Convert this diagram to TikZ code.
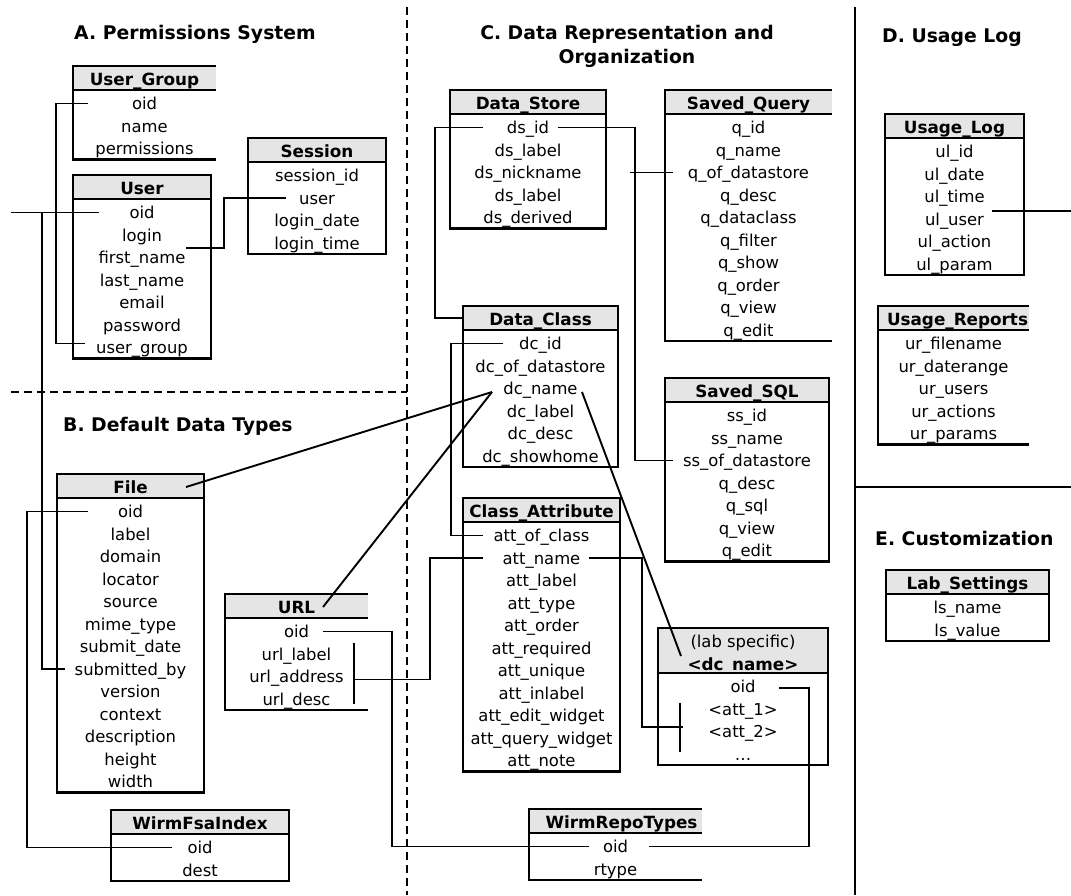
\documentclass[tikz,border=0pt]{standalone}
\usepackage{fontspec}
\setmainfont{DejaVu Sans}
\usetikzlibrary{calc}
\tikzset{
  boxline/.style={line width=2.3pt},
  hdrfill/.style={fill=black!10},
  rowtxt/.style={anchor=base, inner sep=0pt, font=\fontsize{16.4}{19}\selectfont},
  hdrtxt/.style={anchor=base, inner sep=0pt, font=\fontsize{16.8}{20}\selectfont\bfseries},
  ttl/.style={inner sep=0pt, font=\fontsize{18.8}{22}\selectfont\bfseries},
  conn/.style={line width=1.9pt},
  sepline/.style={line width=2.2pt, dash pattern=on 8pt off 5pt},
  solidsep/.style={line width=1.9pt},
}
% rows: name, centre x, header-bottom y, list
\newcommand{\dbrows}[4]{%
  \foreach \r [count=\i] in {#4}{%
    \coordinate (#1-\i) at (#2,#3+13.5+22.5*\i-22.5);
    \node[rowtxt] (#1-t\i) at (#2,#3+19.5+22.5*\i-22.5) {\r};
  }%
}
% name, left, top, right, open-right(0/1), n rows, header, rows
\newcommand{\dbtable}[8]{%
  \pgfmathsetmacro{\dbC}{(#2+#4)/2}%
  \pgfmathsetmacro{\dbHB}{#3+24}%
  \pgfmathsetmacro{\dbB}{#3+24+22.5*#6+2}%
  \fill[hdrfill] (#2,#3) rectangle (#4,\dbHB);
  \ifnum#5=1
    \draw[boxline] (#4,#3) -- (#2,#3) -- (#2,\dbB) -- (#4,\dbB);
  \else
    \draw[boxline] (#2,#3) rectangle (#4,\dbB);
  \fi
  \draw[boxline] (#2,\dbHB) -- (#4,\dbHB);
  \coordinate (#1-h) at (\dbC,#3+12);
  \node[hdrtxt] (#1-ht) at (\dbC,#3+19) {#7};
  \dbrows{#1}{\dbC}{\dbHB}{#8}%
}
\begin{document}
\begin{tikzpicture}[x=1pt,y=-1pt]
\useasboundingbox (0,0) rectangle (1071,895);

% section separators
\draw[sepline] (407,7) -- (407,895);
\draw[sepline] (11,392) -- (407,392);
\draw[solidsep] (855,7) -- (855,895);
\draw[solidsep] (855,487) -- (1071,487);

% titles
\node[ttl, anchor=base west] (ttlA) at (74,39) {A. Permissions System};
\node[ttl, anchor=base] (ttlC1) at (627,39) {C. Data Representation and};
\node[ttl, anchor=base] (ttlC2) at (627,63) {Organization};
\node[ttl, anchor=base west] (ttlB) at (63,431) {B. Default Data Types};
\node[ttl, anchor=base west] (ttlD) at (882,42) {D. Usage Log};
\node[ttl, anchor=base west] (ttlE) at (875,545) {E. Customization};

% tables
\dbtable{usergroup}{73}{66}{216}{1}{3}{User\_Group}{oid,name,permissions}
\dbtable{user}{73}{175}{211}{0}{7}{User}{oid,login,first\_name,last\_name,email,password,user\_group}
\dbtable{session}{248}{138}{386}{0}{4}{Session}{session\_id,user,login\_date,login\_time}
\dbtable{file}{57}{474}{204}{0}{13}{File}{oid,label,domain,locator,source,mime\_type,submit\_date,submitted\_by,version,context,description,height,width}
\dbtable{url}{225}{594}{368}{1}{4}{URL}{oid,url\_label,url\_address,url\_desc}
\dbtable{wirmfsa}{111}{810}{289}{0}{2}{WirmFsaIndex}{oid,dest}
\dbtable{datastore}{450}{90}{606}{0}{5}{Data\_Store}{ds\_id,ds\_label,ds\_nickname,ds\_label,ds\_derived}
\dbtable{savedquery}{665}{90}{832}{1}{10}{Saved\_Query}{q\_id,q\_name,q\_of\_datastore,q\_desc,q\_dataclass,q\_filter,q\_show,q\_order,q\_view,q\_edit}
\dbtable{savedsql}{665}{378}{829}{0}{7}{Saved\_SQL}{ss\_id,ss\_name,ss\_of\_datastore,q\_desc,q\_sql,q\_view,q\_edit}
\dbtable{dataclass}{463}{306}{618}{0}{6}{Data\_Class}{dc\_id,dc\_of\_datastore,dc\_name,dc\_label,dc\_desc,dc\_showhome}
\dbtable{classattr}{463}{498}{620}{0}{11}{Class\_Attribute}{att\_of\_class,att\_name,att\_label,att\_type,att\_order,att\_required,att\_unique,att\_inlabel,att\_edit\_widget,att\_query\_widget,att\_note}
\dbtable{wirmrepo}{529}{809}{702}{1}{2}{\hspace*{12pt}WirmRepoTypes}{oid,rtype}
\dbtable{usagelog}{885}{114}{1024}{0}{6}{Usage\_Log}{ul\_id,ul\_date,ul\_time,ul\_user,ul\_action,ul\_param}
\dbtable{usagerep}{878}{306}{1029}{1}{5}{\hspace*{8pt}Usage\_Reports}{ur\_filename,ur\_daterange,ur\_users,ur\_actions,ur\_params}
\dbtable{labset}{886}{570}{1049}{0}{2}{Lab\_Settings}{ls\_name,ls\_value}

% lab specific table (two-line header)
\fill[hdrfill] (658,628) rectangle (828,673);
\draw[boxline] (658,628) rectangle (828,765);
\draw[boxline] (658,673) -- (828,673);
\coordinate (labspec-h) at (743,650.5);
\node[rowtxt] (labspec-ht1) at (743,647) {(lab specific)};
\node[hdrtxt] (labspec-ht2) at (743,670) {<dc\_name>};
\dbrows{labspec}{743}{673}{oid,<att\_1>,<att\_2>,\ldots}

% connectors
\coordinate (uoidL) at (11,212.5);
\coordinate (ulR) at (1071,211);
\draw[conn] (uoidL) -- ($(user-1)+(-43,0)$);
\draw[conn] ($(user-1)+(-100,0)$) |- ($(file-8)+(-65.5,0)$);
\draw[conn] ($(usergroup-1)+(-56.5,0)$) -- ($(usergroup-1)+(-88.5,0)$) |- ($(user-7)+(-57,-4)$);
\draw[conn] ($(user-3)+(44,-9.5)$) -- ++(38,0) |- ($(session-2)+(-31,0)$);
\draw[conn] ($(datastore-1)+(-45,0)$) -- ++(-48,0) |- ($(dataclass-h)+(-77.5,0)$);
\draw[conn] ($(datastore-1)+(30,0)$) -- ++(77,0) |- ($(savedsql-3)+(-74,0)$);
\draw[conn] ($(savedquery-3)+(-118.5,0)$) -- ($(savedquery-3)+(-75.5,0)$);
\draw[conn] ($(dataclass-1)+(-37.5,0)$) -- ++(-52,0) |- ($(classattr-1)+(-58.5,0)$);
\draw[conn] ($(dataclass-3)+(-48.5,3.5)$) -- ($(file-h)+(55.5,1)$);
\draw[conn] ($(dataclass-3)+(-48.5,3.5)$) -- ($(url-h)+(26.5,1)$);
\draw[conn] ($(dataclass-3)+(41.5,3.5)$) -- ($(labspec-h)+(-62,5.5)$);
\draw[conn] ($(classattr-2)+(-58.5,0)$) -- ++(-53,0) |- ($(url-3)+(57.5,3)$);
\draw[conn] ($(url-2)+(57.5,-11)$) -- ($(url-4)+(57.5,5)$);
\draw[conn] ($(classattr-2)+(47.5,0)$) -- ++(53,0) |- ($(labspec-3)+(-60,-4.5)$);
\draw[conn] ($(labspec-2)+(-63,-6)$) -- ($(labspec-4)+(-63,-2)$);
\draw[conn] ($(labspec-1)+(36,1.5)$) -- ++(30,0) |- ($(wirmrepo-1)+(33.5,0)$);
\draw[conn] ($(url-1)+(26.5,0)$) -- ++(69,0) |- ($(wirmrepo-1)+(-26.5,0)$);
\draw[conn] ($(file-1)+(-42.5,0)$) -- ++(-61,0) |- ($(wirmfsa-1)+(-28,0)$);
\draw[conn] ($(usagelog-4)+(37.5,-8)$) -- (ulR);
\end{tikzpicture}
\end{document}
